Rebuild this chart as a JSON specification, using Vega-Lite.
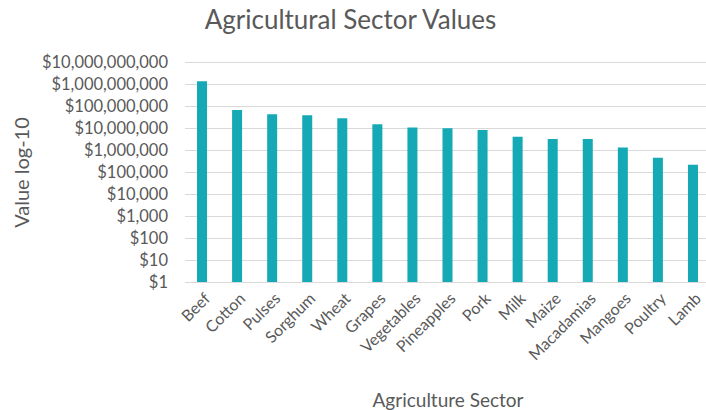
{
  "$schema": "https://vega.github.io/schema/vega-lite/v6.json",
  "autosize": "none",
  "width": 526,
  "height": 220,
  "padding": {"left": 184.5, "top": 62, "right": 0, "bottom": 128},
  "background": "white",
  "config": {
    "view": {"stroke": null},
    "font": "Lato"
  },
  "title": {
    "text": "Agricultural Sector Values",
    "fontSize": 26,
    "fontWeight": "normal",
    "color": "#595959",
    "font": "Lato",
    "dx": -97,
    "offset": 20
  },
  "data": {
    "values": [
      {"sector": "Beef", "value": 1330000000},
      {"sector": "Cotton", "value": 66000000},
      {"sector": "Pulses", "value": 42000000},
      {"sector": "Sorghum", "value": 38000000},
      {"sector": "Wheat", "value": 28000000},
      {"sector": "Grapes", "value": 15000000},
      {"sector": "Vegetables", "value": 10500000},
      {"sector": "Pineapples", "value": 9700000},
      {"sector": "Pork", "value": 8100000},
      {"sector": "Milk", "value": 4000000},
      {"sector": "Maize", "value": 3200000},
      {"sector": "Macadamias", "value": 3150000},
      {"sector": "Mangoes", "value": 1300000},
      {"sector": "Poultry", "value": 450000},
      {"sector": "Lamb", "value": 216000}
    ]
  },
  "mark": {"type": "bar", "color": "#14a9b4", "size": 10},
  "encoding": {
    "x": {
      "field": "sector",
      "type": "nominal",
      "sort": null,
      "title": "Agriculture Sector",
      "axis": {
        "labelAngle": -45,
        "labelFontSize": 16,
        "labelColor": "#595959",
        "labelFont": "Lato",
        "labelPadding": 8,
        "ticks": false,
        "domain": true,
        "domainColor": "#d9d9d9",
        "titleFontSize": 19,
        "titleFontWeight": "normal",
        "titleColor": "#595959",
        "titleFont": "Lato",
        "titlePadding": 29
      }
    },
    "y": {
      "field": "value",
      "type": "quantitative",
      "stack": null,
      "scale": {"type": "log", "domain": [1, 10000000000], "nice": false},
      "title": "Value log-10",
      "axis": {
        "values": [1, 10, 100, 1000, 10000, 100000, 1000000, 10000000, 100000000, 1000000000, 10000000000],
        "format": "$,.0f",
        "labelFontSize": 16.5,
        "labelColor": "#595959",
        "labelFont": "Lato",
        "labelPadding": 17,
        "ticks": false,
        "domain": false,
        "grid": true,
        "gridColor": "#d9d9d9",
        "titleFontSize": 20,
        "titleFontWeight": "normal",
        "titleColor": "#595959",
        "titleFont": "Lato",
        "titlePadding": 9
      }
    },
    "y2": {"datum": 1}
  }
}
